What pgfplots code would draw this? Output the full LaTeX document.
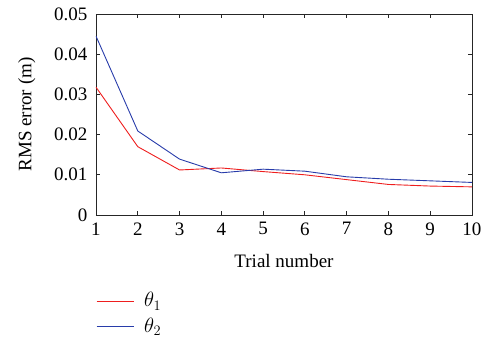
\documentclass[border=0pt]{standalone}
\usepackage{pgfplots}
\pgfplotsset{compat=1.18}
\usepackage{fontspec}
\setmainfont{Liberation Serif}
\definecolor{cred}{RGB}{238,30,30}
\definecolor{cblue}{RGB}{40,60,170}
\begin{document}
\fontsize{19pt}{22pt}\selectfont
\begin{tikzpicture}[x=1pt,y=1pt]
\path[use as bounding box] (-96,-128) rectangle (393,215);
\begin{axis}[
  at={(0,0)}, anchor=south west,
  scale only axis, width=376pt, height=201pt,
  xmin=1, xmax=10, ymin=0, ymax=0.05,
  xtick={1,...,10},
  ytick={0,0.01,0.02,0.03,0.04,0.05},
  yticklabels={0,0.01,0.02,0.03,0.04,0.05},
  scaled y ticks=false,
  tick align=inside, major tick length=4pt,
  axis line style={black!85, line width=0.8pt},
  tick style={black!85, line width=0.8pt},
  xlabel={Trial number}, ylabel={RMS error (m)},
  tick label style={font=\fontsize{19pt}{22pt}\selectfont},
  label style={font=\fontsize{19pt}{22pt}\selectfont},
  /pgf/number format/assume math mode=true,
  xticklabel style={yshift=-1pt},
  yticklabel style={xshift=-2pt},
  ylabel style={yshift=6pt},
  xlabel style={yshift=-6pt},
  legend style={at={(0,-0.37)}, anchor=north west, draw=none, fill=none,
    font=\fontsize{20pt}{23pt}\selectfont, row sep=6pt, inner xsep=0pt,
    legend cell align=left,
    nodes={inner xsep=4pt, inner ysep=1pt}},
  legend image code/.code={\draw[#1, line width=0.9pt] (-3pt,0pt) -- (34pt,0pt);},
]
\addplot[draw=cred, line width=0.9pt] coordinates {
(1,0.0318) (2,0.0170) (3,0.0112) (4,0.0117) (5,0.0108) (6,0.0100) (7,0.0088) (8,0.0076) (9,0.0072) (10,0.0070)};
\addlegendentry{\hspace{6pt}$\theta_1$}
\addplot[draw=cblue, line width=0.9pt] coordinates {
(1,0.0445) (2,0.0209) (3,0.0139) (4,0.0105) (5,0.0114) (6,0.0109) (7,0.0095) (8,0.0089) (9,0.0085) (10,0.0081)};
\addlegendentry{\hspace{6pt}$\theta_2$}
\end{axis}
\end{tikzpicture}
\end{document}
